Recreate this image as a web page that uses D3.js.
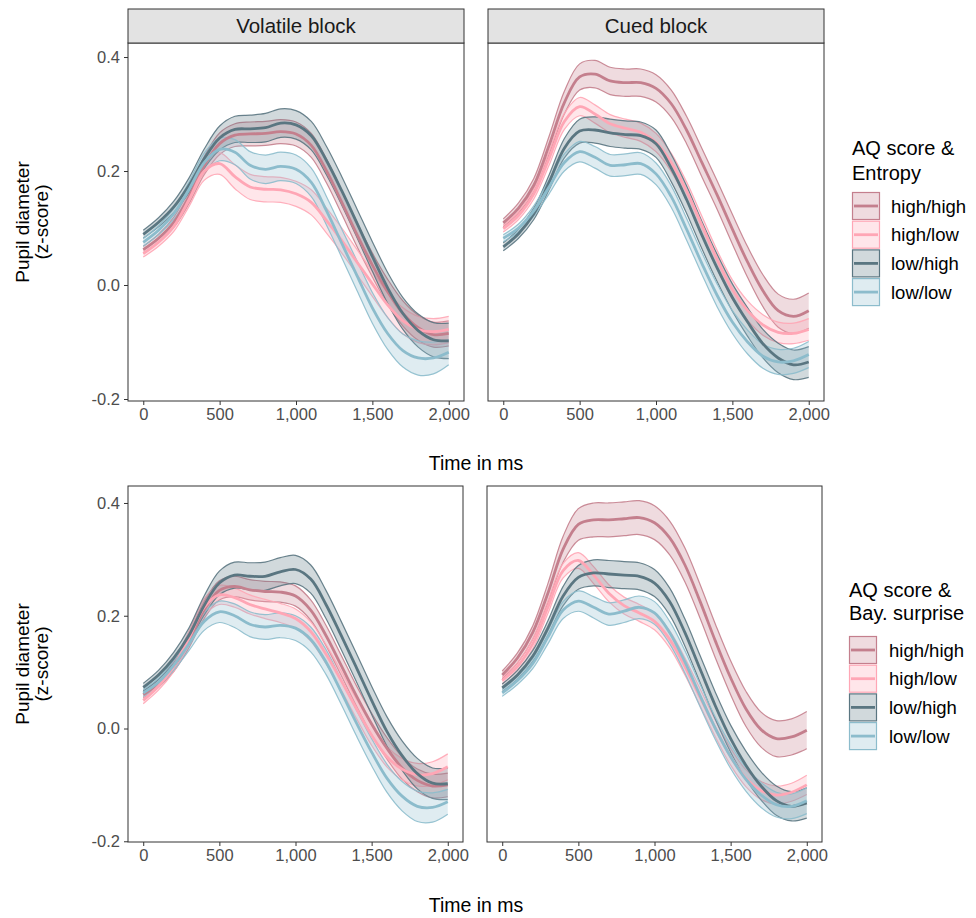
<!DOCTYPE html>
<html>
<head>
<meta charset="utf-8">
<script src="https://cdn.jsdelivr.net/npm/d3@7"></script>
<style>
  body { margin: 0; background: #fff; }
  text { font-family: "Liberation Sans", Arial, Helvetica, sans-serif; }
</style>
</head>
<body>
<div class="chart"></div>
<script>
const width = 976;
const height = 918;

// time axis (ms) and factor levels
const times = [0, 100, 200, 300, 400, 500, 600, 700, 800, 900, 1000, 1100, 1200, 1300, 1400, 1500, 1600, 1700, 1800, 1900, 2000];
const groups = ['high/high', 'high/low', 'low/high', 'low/low'];
const blocks = ['Volatile block', 'Cued block'];
const legendTitles = [['AQ score &', 'Entropy'], ['AQ score &', 'Bay. surprise']];
const yTicks = [-0.2, 0, 0.2, 0.4];
const xTicks = [0, 500, 1000, 1500, 2000];

// Volatile block / Entropy : means
const volEnt_hh = [0.062, 0.082, 0.110, 0.155, 0.210, 0.248, 0.263, 0.265, 0.266, 0.269, 0.265, 0.245, 0.200, 0.145, 0.088, 0.035, -0.012, -0.050, -0.075, -0.087, -0.085];
const volEnt_hl = [0.055, 0.075, 0.103, 0.150, 0.200, 0.213, 0.190, 0.172, 0.168, 0.167, 0.160, 0.145, 0.113, 0.078, 0.040, 0.002, -0.035, -0.063, -0.078, -0.082, -0.078];
const volEnt_lh = [0.089, 0.110, 0.137, 0.175, 0.222, 0.258, 0.273, 0.274, 0.276, 0.284, 0.281, 0.262, 0.218, 0.165, 0.108, 0.050, -0.005, -0.050, -0.080, -0.096, -0.098];
const volEnt_ll = [0.075, 0.096, 0.125, 0.168, 0.215, 0.238, 0.233, 0.210, 0.203, 0.208, 0.203, 0.180, 0.130, 0.073, 0.016, -0.040, -0.085, -0.115, -0.128, -0.128, -0.118];
// Volatile block / Entropy : standard errors
const volEnt_hh_se = [0.006, 0.007, 0.009, 0.012, 0.016, 0.019, 0.020, 0.021, 0.021, 0.021, 0.021, 0.021, 0.021, 0.021, 0.021, 0.021, 0.022, 0.022, 0.022, 0.022, 0.022];
const volEnt_hl_se = [0.006, 0.007, 0.009, 0.012, 0.016, 0.019, 0.021, 0.022, 0.022, 0.022, 0.022, 0.022, 0.022, 0.022, 0.022, 0.022, 0.022, 0.023, 0.023, 0.023, 0.023];
const volEnt_lh_se = [0.007, 0.008, 0.010, 0.013, 0.017, 0.021, 0.023, 0.024, 0.025, 0.025, 0.025, 0.025, 0.025, 0.025, 0.025, 0.026, 0.027, 0.028, 0.029, 0.030, 0.031];
const volEnt_ll_se = [0.007, 0.008, 0.010, 0.013, 0.017, 0.020, 0.022, 0.024, 0.025, 0.025, 0.025, 0.025, 0.025, 0.025, 0.026, 0.027, 0.028, 0.029, 0.030, 0.028, 0.022];

// Cued block / Entropy
const cueEnt_hh = [0.109, 0.135, 0.175, 0.245, 0.320, 0.365, 0.370, 0.358, 0.355, 0.355, 0.345, 0.318, 0.272, 0.215, 0.158, 0.098, 0.040, -0.010, -0.045, -0.055, -0.045];
const cueEnt_hl = [0.099, 0.122, 0.160, 0.222, 0.287, 0.313, 0.300, 0.283, 0.275, 0.268, 0.250, 0.215, 0.165, 0.105, 0.045, -0.008, -0.045, -0.070, -0.083, -0.085, -0.078];
const cueEnt_lh = [0.067, 0.090, 0.125, 0.180, 0.240, 0.270, 0.272, 0.267, 0.264, 0.262, 0.248, 0.205, 0.150, 0.088, 0.030, -0.022, -0.065, -0.103, -0.128, -0.140, -0.135];
const cueEnt_ll = [0.082, 0.100, 0.130, 0.172, 0.215, 0.234, 0.224, 0.210, 0.211, 0.213, 0.195, 0.155, 0.098, 0.038, -0.018, -0.065, -0.100, -0.125, -0.135, -0.133, -0.122];
const cueEnt_hh_se = [0.007, 0.009, 0.012, 0.016, 0.020, 0.023, 0.024, 0.024, 0.024, 0.024, 0.024, 0.024, 0.024, 0.025, 0.025, 0.026, 0.027, 0.028, 0.029, 0.030, 0.031];
const cueEnt_hl_se = [0.006, 0.007, 0.009, 0.012, 0.014, 0.016, 0.016, 0.016, 0.016, 0.016, 0.016, 0.016, 0.016, 0.016, 0.016, 0.017, 0.017, 0.018, 0.018, 0.018, 0.019];
const cueEnt_lh_se = [0.007, 0.008, 0.010, 0.013, 0.017, 0.021, 0.023, 0.024, 0.024, 0.024, 0.024, 0.024, 0.024, 0.024, 0.024, 0.024, 0.025, 0.025, 0.026, 0.026, 0.027];
const cueEnt_ll_se = [0.006, 0.007, 0.009, 0.012, 0.015, 0.018, 0.019, 0.019, 0.019, 0.019, 0.019, 0.019, 0.019, 0.019, 0.020, 0.020, 0.021, 0.021, 0.022, 0.022, 0.023];

// Volatile block / Bayesian surprise
const volBay_hh = [0.060, 0.080, 0.110, 0.155, 0.210, 0.245, 0.252, 0.246, 0.243, 0.242, 0.235, 0.210, 0.165, 0.112, 0.058, 0.008, -0.035, -0.070, -0.092, -0.102, -0.100];
const volBay_hl = [0.050, 0.075, 0.110, 0.160, 0.215, 0.237, 0.232, 0.220, 0.212, 0.205, 0.195, 0.172, 0.132, 0.085, 0.035, -0.012, -0.050, -0.072, -0.082, -0.080, -0.068];
const volBay_lh = [0.073, 0.095, 0.125, 0.165, 0.218, 0.258, 0.272, 0.270, 0.270, 0.278, 0.282, 0.265, 0.220, 0.165, 0.108, 0.050, -0.005, -0.048, -0.080, -0.097, -0.098];
const volBay_ll = [0.063, 0.082, 0.112, 0.150, 0.190, 0.207, 0.200, 0.185, 0.180, 0.183, 0.178, 0.158, 0.118, 0.065, 0.010, -0.042, -0.088, -0.120, -0.138, -0.140, -0.130];
const volBay_hh_se = [0.006, 0.007, 0.009, 0.012, 0.015, 0.017, 0.018, 0.018, 0.018, 0.018, 0.018, 0.018, 0.018, 0.018, 0.018, 0.019, 0.019, 0.020, 0.020, 0.021, 0.021];
const volBay_hl_se = [0.006, 0.007, 0.009, 0.012, 0.015, 0.017, 0.017, 0.017, 0.017, 0.017, 0.017, 0.017, 0.017, 0.017, 0.017, 0.018, 0.018, 0.019, 0.020, 0.021, 0.023];
const volBay_lh_se = [0.007, 0.008, 0.010, 0.013, 0.017, 0.021, 0.023, 0.024, 0.025, 0.025, 0.025, 0.025, 0.025, 0.025, 0.025, 0.025, 0.026, 0.026, 0.027, 0.027, 0.028];
const volBay_ll_se = [0.006, 0.007, 0.009, 0.012, 0.016, 0.019, 0.021, 0.022, 0.022, 0.022, 0.022, 0.022, 0.022, 0.022, 0.023, 0.024, 0.025, 0.026, 0.027, 0.026, 0.022];

// Cued block / Bayesian surprise
const cueBay_hh = [0.095, 0.125, 0.170, 0.240, 0.318, 0.362, 0.370, 0.370, 0.372, 0.374, 0.365, 0.338, 0.290, 0.225, 0.155, 0.090, 0.035, -0.002, -0.018, -0.015, -0.003];
const cueBay_hl = [0.085, 0.110, 0.150, 0.215, 0.280, 0.298, 0.272, 0.240, 0.218, 0.205, 0.190, 0.158, 0.110, 0.055, 0.000, -0.050, -0.088, -0.110, -0.118, -0.113, -0.100];
const cueBay_lh = [0.072, 0.095, 0.128, 0.178, 0.235, 0.268, 0.276, 0.274, 0.272, 0.270, 0.258, 0.225, 0.170, 0.105, 0.040, -0.018, -0.065, -0.102, -0.128, -0.138, -0.132];
const cueBay_ll = [0.063, 0.085, 0.115, 0.162, 0.210, 0.226, 0.215, 0.203, 0.208, 0.215, 0.205, 0.170, 0.118, 0.058, 0.000, -0.050, -0.090, -0.118, -0.135, -0.138, -0.128];
const cueBay_hh_se = [0.007, 0.009, 0.012, 0.017, 0.023, 0.028, 0.030, 0.030, 0.030, 0.030, 0.030, 0.030, 0.030, 0.030, 0.030, 0.030, 0.031, 0.031, 0.032, 0.032, 0.033];
const cueBay_hl_se = [0.006, 0.007, 0.009, 0.011, 0.013, 0.014, 0.015, 0.015, 0.015, 0.015, 0.015, 0.015, 0.015, 0.015, 0.015, 0.015, 0.015, 0.016, 0.016, 0.016, 0.017];
const cueBay_lh_se = [0.007, 0.008, 0.010, 0.013, 0.017, 0.021, 0.023, 0.024, 0.024, 0.024, 0.024, 0.024, 0.024, 0.024, 0.024, 0.024, 0.025, 0.025, 0.026, 0.026, 0.027];
const cueBay_ll_se = [0.006, 0.007, 0.009, 0.012, 0.015, 0.018, 0.019, 0.020, 0.020, 0.020, 0.020, 0.020, 0.020, 0.020, 0.020, 0.021, 0.021, 0.022, 0.022, 0.022, 0.023];

const colours = ['#c47f8d', '#ffa6b5', '#5a7681', '#8cbccc'];

// panels[row][col] -> 4 groups of {mean, se}
const panels = [
    [
        [[volEnt_hh, volEnt_hh_se], [volEnt_hl, volEnt_hl_se], [volEnt_lh, volEnt_lh_se], [volEnt_ll, volEnt_ll_se]],
        [[cueEnt_hh, cueEnt_hh_se], [cueEnt_hl, cueEnt_hl_se], [cueEnt_lh, cueEnt_lh_se], [cueEnt_ll, cueEnt_ll_se]]
    ],
    [
        [[volBay_hh, volBay_hh_se], [volBay_hl, volBay_hl_se], [volBay_lh, volBay_lh_se], [volBay_ll, volBay_ll_se]],
        [[cueBay_hh, cueBay_hh_se], [cueBay_hl, cueBay_hl_se], [cueBay_lh, cueBay_lh_se], [cueBay_ll, cueBay_ll_se]]
    ]
];

// layout of the two facet rows
const rows = [
    { top: 43, bottom: 401, yDomain: [-0.2035, 0.4246], xs: [[128, 464], [488, 824]], strip: true,
      legendX: 852, titleY: [148, 173], keyTop: 192, labelX: 891, xTitleY: 463, yTitleY: 222 },
    { top: 486, bottom: 842, yDomain: [-0.2013, 0.4301], xs: [[128, 463], [487, 822]], strip: false,
      legendX: 849, titleY: [590, 613], keyTop: 636, labelX: 889, xTitleY: 905, yTitleY: 664 }
];

const svg = d3.select('.chart').append('svg')
    .attr('width', width)
    .attr('height', height)
    .attr('viewBox', `0 0 ${width} ${height}`);

rows.forEach((row, r) => {
    const y = d3.scaleLinear().domain(row.yDomain).range([row.bottom, row.top]);

    row.xs.forEach((xr, c) => {
        const x = d3.scaleLinear().domain([-100, 2100]).range(xr);
        const g = svg.append('g');

        g.append('rect')
            .attr('x', xr[0]).attr('y', row.top)
            .attr('width', xr[1] - xr[0]).attr('height', row.bottom - row.top)
            .attr('fill', '#fff');

        const series = panels[r][c];

        /* ribbons */
        series.forEach((s, k) => {
            const [mean, se] = s;
            const area = d3.area()
                .x((d, i) => x(times[i]))
                .y0((d, i) => y(mean[i] - se[i]))
                .y1((d, i) => y(mean[i] + se[i]))
                .curve(d3.curveCatmullRom);
            g.append('path')
                .attr('d', area(mean))
                .attr('fill', colours[k])
                .attr('fill-opacity', 0.28)
                .attr('stroke', 'none');
            ['lo', 'hi'].forEach(side => {
                const edge = d3.line()
                    .x((d, i) => x(times[i]))
                    .y((d, i) => y(side === 'lo' ? mean[i] - se[i] : mean[i] + se[i]))
                    .curve(d3.curveCatmullRom);
                g.append('path')
                    .attr('d', edge(mean))
                    .attr('fill', 'none')
                    .attr('stroke', colours[k])
                    .attr('stroke-width', 1.2)
                    .attr('stroke-opacity', 0.9);
            });
        });

        /* mean lines */
        series.forEach((s, k) => {
            const line = d3.line()
                .x((d, i) => x(times[i]))
                .y(d => y(d))
                .curve(d3.curveCatmullRom);
            g.append('path')
                .attr('d', line(s[0]))
                .attr('fill', 'none')
                .attr('stroke', colours[k])
                .attr('stroke-width', 2.8);
        });

        // panel border
        g.append('rect')
            .attr('x', xr[0]).attr('y', row.top)
            .attr('width', xr[1] - xr[0]).attr('height', row.bottom - row.top)
            .attr('fill', 'none')
            .attr('stroke', '#333')
            .attr('stroke-width', 1);

        // strip
        if (row.strip) {
            svg.append('rect')
                .attr('x', xr[0]).attr('y', 9)
                .attr('width', xr[1] - xr[0]).attr('height', row.top - 9)
                .attr('fill', '#e3e3e3')
                .attr('stroke', '#333')
                .attr('stroke-width', 1);
            svg.append('text')
                .attr('x', (xr[0] + xr[1]) / 2)
                .attr('y', (9 + row.top) / 2 + 7)
                .attr('text-anchor', 'middle')
                .attr('font-size', '20.5px')
                .attr('fill', '#1a1a1a')
                .text(blocks[c]);
        }

        // x axis
        const xAxis = d3.axisBottom(x).tickValues(xTicks).tickSize(4).tickPadding(3)
            .tickFormat(d3.format(','));
        const xg = svg.append('g')
            .attr('class', 'x-axis')
            .attr('transform', `translate(0, ${row.bottom})`)
            .call(xAxis);
        xg.select('.domain').remove();
        xg.selectAll('line').attr('stroke', '#333');
        xg.selectAll('text').attr('fill', '#4d4d4d').attr('font-size', '16.5px')
            .attr('font-family', '"Liberation Sans", Arial, sans-serif');

        // y axis on the left column only
        if (c === 0) {
            const yAxis = d3.axisLeft(y).tickValues(yTicks).tickSize(4).tickPadding(4)
                .tickFormat(d => d.toFixed(1));
            const yg = svg.append('g')
                .attr('class', 'y-axis')
                .attr('transform', `translate(${xr[0]}, 0)`)
                .call(yAxis);
            yg.select('.domain').remove();
            yg.selectAll('line').attr('stroke', '#333');
            yg.selectAll('text').attr('fill', '#4d4d4d').attr('font-size', '16.5px')
                .attr('font-family', '"Liberation Sans", Arial, sans-serif');
        }
    });

    /* axis titles */
    svg.append('text')
        .attr('x', 476)
        .attr('y', row.xTitleY + 7)
        .attr('text-anchor', 'middle')
        .attr('font-size', '19.5px')
        .attr('fill', '#000')
        .text('Time in ms');

    const yt = svg.append('text')
        .attr('transform', `translate(0, ${row.yTitleY}) rotate(-90)`)
        .attr('text-anchor', 'middle')
        .attr('font-size', '19px')
        .attr('fill', '#000');
    yt.append('tspan').attr('x', 0).attr('y', 29).text('Pupil diameter');
    yt.append('tspan').attr('x', 0).attr('y', 48).text('(z-score)');

    /* legend */
    const lg = svg.append('g').attr('class', 'legend');
    legendTitles[r].forEach((t, i) => {
        lg.append('text')
            .attr('x', row.legendX)
            .attr('y', row.titleY[i] + 7)
            .attr('font-size', '20px')
            .attr('fill', '#000')
            .text(t);
    });
    const keyStep = 28.7;
    groups.forEach((name, k) => {
        const ky = row.keyTop + k * keyStep;
        lg.append('rect')
            .attr('x', row.legendX + 0.5).attr('y', ky + 0.5)
            .attr('width', 27).attr('height', 27)
            .attr('fill', colours[k]).attr('fill-opacity', 0.28)
            .attr('stroke', colours[k]).attr('stroke-width', 1.2);
        lg.append('line')
            .attr('x1', row.legendX + 2).attr('x2', row.legendX + 26)
            .attr('y1', ky + 14).attr('y2', ky + 14)
            .attr('stroke', colours[k]).attr('stroke-width', 2.8);
        lg.append('text')
            .attr('x', row.labelX)
            .attr('y', ky + 14 + 6.5)
            .attr('font-size', '18.5px')
            .attr('fill', '#000')
            .text(name);
    });
});
</script>
</body>
</html>
